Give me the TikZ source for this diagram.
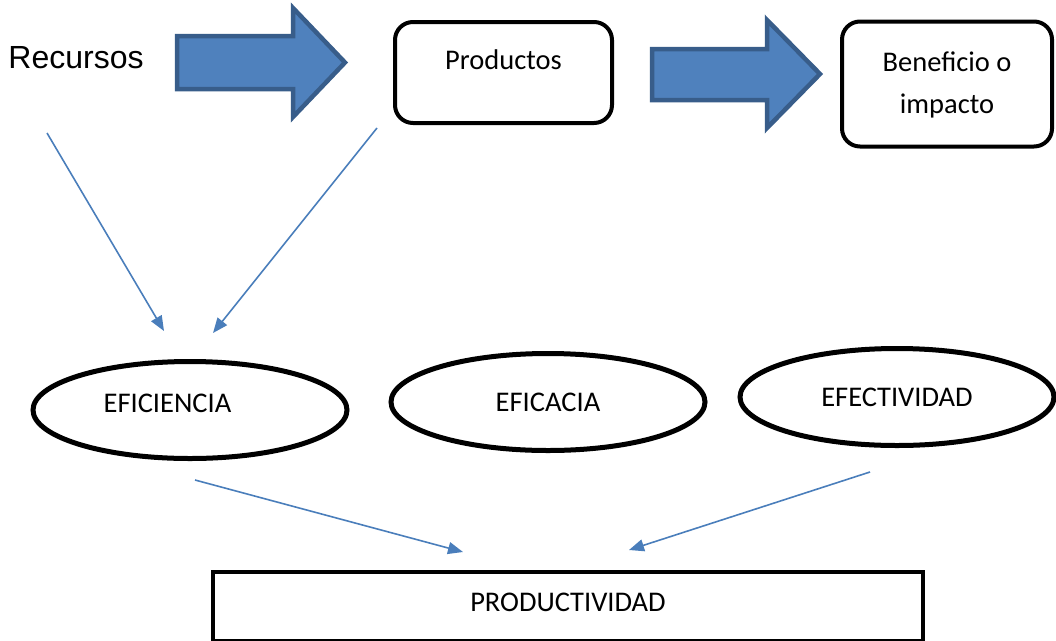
\documentclass[tikz,border=0pt]{standalone}
\usepackage{fontspec}
\setmainfont{Carlito}
\newfontfamily\arialfont{Liberation Sans}
\usetikzlibrary{arrows.meta,shapes.geometric}

\definecolor{blockfill}{HTML}{4F81BD}
\definecolor{blockedge}{HTML}{385D8A}
\definecolor{linkblue}{HTML}{4A7EBB}

\tikzset{
  body/.style={font=\fontsize{28.5}{42}\selectfont},
  roundbox/.style={body, draw=black, line width=4pt, rounded corners=18pt,
    rectangle, align=center},
  ovalbox/.style={body, draw=black, line width=5pt, ellipse,
    minimum width=314pt, minimum height=97pt, inner sep=0pt},
  flatbox/.style={body, draw=black, line width=4pt, rectangle},
  blockarrow/.style={fill=blockfill, draw=blockedge, line width=4.5pt,
    line join=miter},
  link/.style={draw=linkblue, line width=1.6pt,
    -{Triangle[length=15pt,width=12pt]}}
}

\begin{document}
\begin{tikzpicture}[x=1pt,y=-1pt]
  \useasboundingbox (0,0) rectangle (1056,640);
  \clip (0,0) rectangle (1056,640);

  % top row
  \node[font=\arialfont\fontsize{32}{36}\selectfont] (recursos) at (76,58) {Recursos};
  \node[roundbox, minimum width=217pt, minimum height=101pt,
        text height=20pt, text depth=26pt] (productos) at (503.5,72.5) {Productos};
  \node[roundbox, minimum width=210pt, minimum height=125pt]
        (beneficio) at (947,84) {\strut Beneficio o\\\strut impacto};

  % wide block arrows
  \draw[blockarrow] (177,36) -- (293,36) -- (293,8) -- (345,62.5) -- (293,117)
        -- (293,89) -- (177,89) -- cycle;
  \draw[blockarrow] (652,49) -- (767,49) -- (767,20) -- (820,74) -- (767,128)
        -- (767,100) -- (652,100) -- cycle;

  % middle row
  \node[ovalbox, text depth=14pt] (eficiencia) at (190,410) {EFICIENCIA\hspace*{45pt}};
  \node[ovalbox] (eficacia) at (548,402) {EFICACIA};
  \node[ovalbox] (efectividad) at (897,397) {EFECTIVIDAD};

  % bottom box
  \node[flatbox, minimum width=710pt, minimum height=69pt,
        text height=20pt, text depth=10pt] (productividad) at (568,606.5) {PRODUCTIVIDAD};

  % free ends of the thin links
  \coordinate (fromRec) at (47,133);
  \coordinate (toEfiA) at (164,331);
  \coordinate (fromProd) at (377,128);
  \coordinate (toEfiB) at (213,333);
  \coordinate (fromEfi) at (195,480);
  \coordinate (toProdA) at (463,552);
  \coordinate (fromEfe) at (870,472);
  \coordinate (toProdB) at (629,550);

  \draw[link] (fromRec) -- (toEfiA);
  \draw[link] (fromProd) -- (toEfiB);
  \draw[link] (fromEfi) -- (toProdA);
  \draw[link] (fromEfe) -- (toProdB);
\end{tikzpicture}
\end{document}
